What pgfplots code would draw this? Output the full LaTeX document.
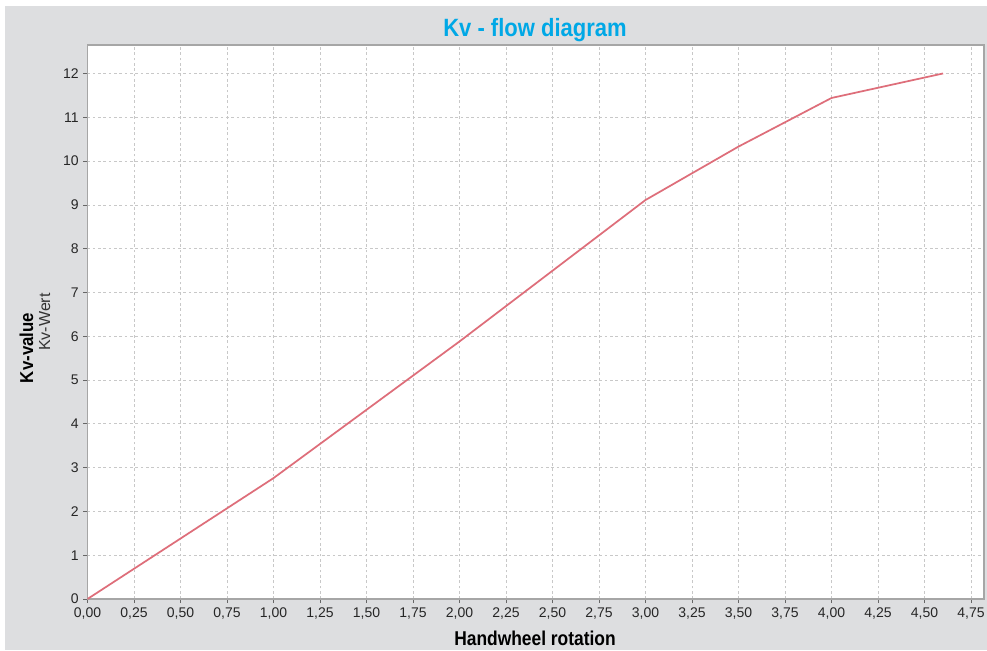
\documentclass[border=0pt]{standalone}
\usepackage{pgfplots}
\pgfplotsset{compat=1.18}
\usepackage{fontspec}
\setmainfont{Liberation Sans}
\definecolor{bg}{RGB}{221,222,224}
\definecolor{titleblue}{RGB}{0,168,230}
\definecolor{curve}{RGB}{222,110,122}
\definecolor{gridc}{RGB}{200,200,200}
\begin{document}
\begin{tikzpicture}
\useasboundingbox (0,0) rectangle (740.25pt,487.5pt);
\fill[white] (0,0) rectangle (740.25pt,487.5pt);
\fill[bg] (3.75pt,0) rectangle (740.25pt,483pt);
\begin{axis}[
  at={(65.6pt,38.25pt)}, anchor=south west,
  scale only axis, width=672.4pt, height=415.5pt,
  xmin=0, xmax=4.82, ymin=0, ymax=12.65,
  axis background/.style={fill=white},
  xtick={0,0.25,0.5,0.75,1,1.25,1.5,1.75,2,2.25,2.5,2.75,3,3.25,3.5,3.75,4,4.25,4.5,4.75},
  ytick={0,1,2,3,4,5,6,7,8,9,10,11,12},
  grid=major,
  major grid style={gridc, dash pattern=on 2pt off 2pt, line width=0.5pt},
  tick align=outside, tick pos=left, major tick length=3pt,
  tick style={gray!80!black, line width=0.5pt},
  axis line style={gray!70, line width=0.8pt},
  /pgf/number format/assume math mode=true,
  tick label style={font=\fontsize{10.5}{12}\selectfont, text=black!85},
  x tick label style={/pgf/number format/.cd, fixed, fixed zerofill, precision=2, use comma},
  y tick label style={/pgf/number format/.cd, fixed, precision=0},
]
\addplot[curve, line width=1.3pt] coordinates {
 (0,0) (1.0,2.76) (2.0,5.88) (3.0,9.11) (3.5,10.33) (4.0,11.44) (4.6,12.0)
};
\end{axis}
\node[anchor=base, text=titleblue, font=\bfseries\fontsize{18.75}{20}\selectfont] at (401.25pt,460pt) {\scalebox{0.88}[1]{Kv - flow diagram}};
\node[anchor=base, font=\bfseries\fontsize{15}{17}\selectfont] at (401.25pt,3.75pt) {\scalebox{0.87}[1]{Handwheel rotation}};
\node[anchor=base, rotate=90, font=\bfseries\fontsize{14}{16}\selectfont] at (24.75pt,226.5pt) {\scalebox{0.9}[1]{Kv-value}};
\node[anchor=base, rotate=90, font=\fontsize{12}{14}\selectfont, text=black!80] at (37.5pt,246pt) {Kv-Wert};
\end{tikzpicture}
\end{document}
